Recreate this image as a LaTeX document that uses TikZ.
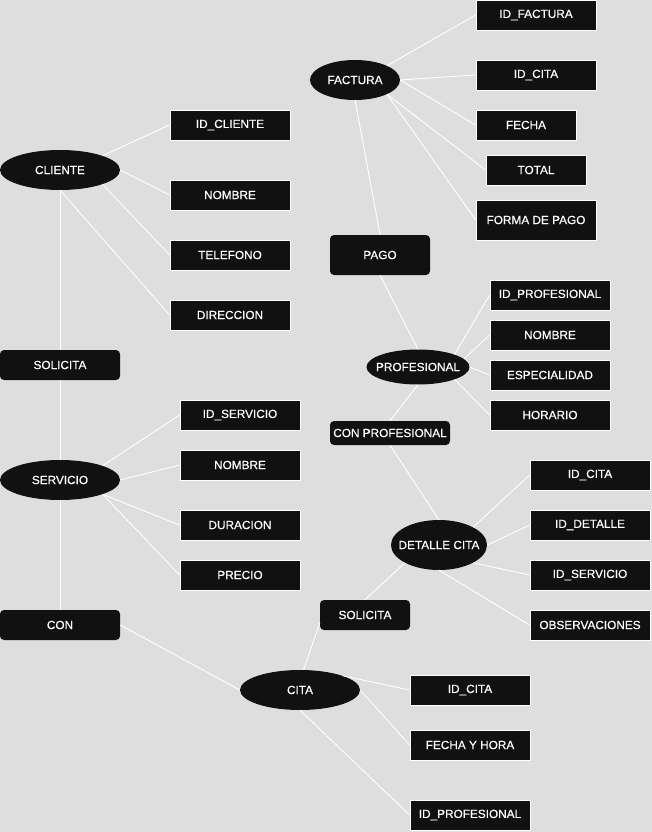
\documentclass[tikz,border=0pt]{standalone}
\usepackage{fontspec}
\setmainfont{Liberation Sans}[FakeBold=0.5]
\usetikzlibrary{shapes.geometric}
\definecolor{bgc}{HTML}{DEDEDE}
\definecolor{boxc}{HTML}{111111}
\newcommand\ctr[1]{\makebox[0pt]{#1}}

\begin{document}
\begin{tikzpicture}[x=1pt,y=-1pt,
    font=\fontsize{11.8}{13}\selectfont,
    attr/.style={draw=white,line width=0.8pt,fill=boxc,text=white,minimum width=120pt,minimum height=30pt,inner sep=0pt},
    ent/.style={ellipse,fill=boxc,text=white,minimum width=120pt,minimum height=40pt,inner sep=0pt},
    rel/.style={rounded corners=4pt,fill=boxc,text=white,minimum width=120pt,minimum height=30pt,inner sep=0pt},
    link/.style={draw=white,line width=0.9pt}]
	%%%%% START %%%%%
	\useasboundingbox[fill=bgc] (0,0) rectangle (652,832);
	
	% entidades
	\node[ent] (cliente) at (60,170) {\ctr{CLIENTE}};
	\node[ent] (servicio) at (60,480) {\ctr{SERVICIO}};
	\node[ent,minimum width=90pt] (factura) at (355,80) {\ctr{FACTURA}};
	\node[ent,minimum width=103pt,minimum height=35pt] (profesional) at (418,367) {\ctr{PROFESIONAL}};
	\node[ent,minimum width=96pt,minimum height=50pt] (detalle) at (439,545) {\ctr{DETALLE CITA}};
	\node[ent] (cita) at (300,690) {\ctr{CITA}};
	
	% relaciones
	\node[rel] (solicitaA) at (60,365) {SOLICITA};
	\node[rel] (con) at (60,625) {CON};
	\node[rel,minimum width=100pt,minimum height=40pt] (pago) at (380,255) {PAGO};
	\node[rel,minimum height=24pt] (conprof) at (390,433) {CON PROFESIONAL};
	\node[rel,minimum width=90pt] (solicitaB) at (365,615) {SOLICITA};
	
	% atributos cliente
	\node[attr] (idcliente) at (230,125) {ID\_CLIENTE};
	\node[attr] (nombrecli) at (230,195) {NOMBRE};
	\node[attr] (telefono) at (230,255) {TELEFONO};
	\node[attr] (direccion) at (230,315) {DIRECCION};
	
	% atributos factura
	\node[attr] (idfactura) at (536,15) {ID\_FACTURA};
	\node[attr] (idcitafac) at (536,75) {ID\_CITA};
	\node[attr,minimum width=100pt] (fecha) at (526,125) {FECHA};
	\node[attr,minimum width=100pt] (total) at (536,170) {TOTAL};
	\node[attr,minimum height=40pt] (formapago) at (536,220) {FORMA DE PAGO};
	
	% atributos profesional
	\node[attr] (idprof) at (550,295) {ID\_PROFESIONAL};
	\node[attr] (nombreprof) at (550,335) {NOMBRE};
	\node[attr] (especialidad) at (550,375) {ESPECIALIDAD};
	\node[attr] (horario) at (550,415) {HORARIO};
	
	% atributos servicio
	\node[attr] (idservicio) at (240,415) {ID\_SERVICIO};
	\node[attr] (nombreserv) at (240,465) {NOMBRE};
	\node[attr] (duracion) at (240,525) {DURACION};
	\node[attr] (precio) at (240,575) {PRECIO};
	
	% atributos detalle cita
	\node[attr] (idcitadet) at (590,475) {ID\_CITA};
	\node[attr] (iddetalle) at (590,525) {ID\_DETALLE};
	\node[attr] (idservdet) at (590,575) {ID\_SERVICIO};
	\node[attr] (observ) at (590,625) {OBSERVACIONES};
	
	% atributos cita
	\node[attr] (idcita) at (470,690) {ID\_CITA};
	\node[attr] (fechahora) at (470,745) {FECHA Y HORA};
	\node[attr] (idprofcita) at (470,815) {ID\_PROFESIONAL};
	
	% conexiones a atributos
	\foreach \e/\a in {north east/idcliente,east/nombrecli,south east/telefono,south/direccion}
		\draw[link] (cliente.\e) -- (\a.west);
	\foreach \e/\a in {north east/idfactura,east/idcitafac,east/fecha,south east/total,south east/formapago}
		\draw[link] (factura.\e) -- (\a.west);
	\foreach \e/\a in {north east/idprof,10/nombreprof,east/especialidad,south east/horario}
		\draw[link] (profesional.\e) -- (\a.west);
	\foreach \e/\a in {north east/idservicio,east/nombreserv,south east/duracion,south east/precio}
		\draw[link] (servicio.\e) -- (\a.west);
	\foreach \e/\a in {north east/idcitadet,east/iddetalle,south east/idservdet,south/observ}
		\draw[link] (detalle.\e) -- (\a.west);
	\foreach \e/\a in {north east/idcita,east/fechahora,south/idprofcita}
		\draw[link] (cita.\e) -- (\a.west);
	
	% conexiones entre entidades
	\draw[link] (cliente) -- (solicitaA);
	\draw[link] (solicitaA) -- (servicio);
	\draw[link] (servicio) -- (con);
	\draw[link] (con.east) -- (cita.west);
	\draw[link] (cita.80) -- (solicitaB.190);
	\draw[link] (solicitaB.north) -- (detalle.south west);
	\draw[link] (detalle.north) -- (conprof.south);
	\draw[link] (conprof.north) -- (profesional.south);
	\draw[link] (profesional.north) -- (pago.south);
	\draw[link] (pago.north) -- (factura.south);
	%%%%% END %%%%%
\end{tikzpicture}
\end{document}
